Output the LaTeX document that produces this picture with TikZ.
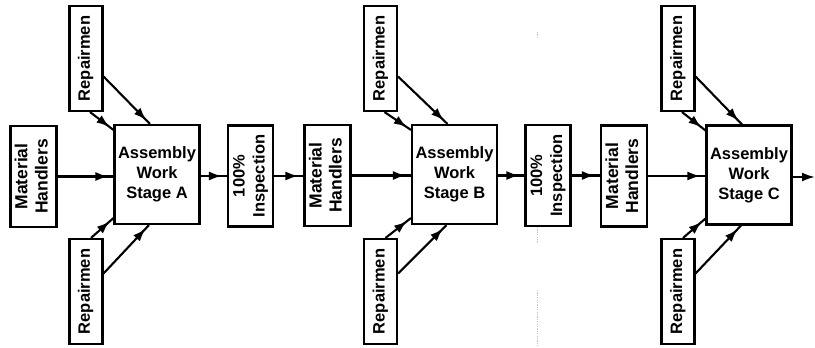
\documentclass[tikz,border=0pt]{standalone}
\usepackage{fontspec}
\setmainfont{Liberation Sans}
\usepackage{graphicx}
\usetikzlibrary{arrows.meta,decorations.markings,calc}

% vertical (rotated) text, lines centred
\newcommand\uptext[1]{\rotatebox{90}{\begin{tabular}{@{}c@{}}#1\end{tabular}}}

\tikzset{
  box/.style={draw, line width=2.1pt, inner sep=0pt, align=center,
              font=\bfseries\fontsize{16.5}{20}\selectfont},
  repbox/.style={box, minimum width=33pt, minimum height=105pt},
  mhbox/.style={box, minimum width=46pt, minimum height=101pt,
                font=\bfseries\fontsize{17.5}{20}\selectfont},
  asmbox/.style={box, minimum width=85pt, minimum height=99pt},
  inspbox/.style={box, minimum width=45pt, minimum height=101pt},
  flow/.style={line width=2.1pt, postaction={decorate},
    decoration={markings,
      mark=at position -5pt with {\arrow{Latex[length=13pt,width=9pt]}}}},
  endflow/.style={line width=2.1pt, -{Latex[length=13pt,width=9pt]}},
  crease/.style={gray!45, line width=0.6pt, dash pattern=on 1.2pt off 1.2pt},
}

\begin{document}
\begin{tikzpicture}[x=1pt,y=-1pt]
\useasboundingbox (0,0) rectangle (815,348);

% ---- stage A ----
\node[mhbox]   (mhA) at (33.5,176.5) {\uptext{Material\\Handlers}};
\node[repbox]  (rtA) at (86,58.5)    {\uptext{Repairmen}};
\node[repbox]  (rbA) at (86,291.5)   {\uptext{Repairmen}};
\node[asmbox]  (asA) at (157,174.5)  {Assembly\\Work\\Stage A};
\node[inspbox] (inA) at (250.5,176)  {\uptext{100\%\\Inspection}};

% ---- stage B ----
\node[mhbox]   (mhB) at (327.5,175.5) {\uptext{Material\\Handlers}};
\node[repbox]  (rtB) at (380.5,58.5)  {\uptext{Repairmen}};
\node[repbox]  (rbB) at (380.5,291.5) {\uptext{Repairmen}};
\node[asmbox]  (asB) at (454.5,174.5) {Assembly\\Work\\Stage B};
\node[inspbox] (inB) at (548,175.5)   {\uptext{100\%\\Inspection}};

% ---- stage C ----
\node[mhbox]   (mhC) at (624,176)    {\uptext{Material\\Handlers}};
\node[repbox]  (rtC) at (678,58.5)   {\uptext{Repairmen}};
\node[repbox]  (rbC) at (678,291.5)  {\uptext{Repairmen}};
\node[asmbox]  (asC) at (749,175)    {Assembly\\Work\\Stage C};
\coordinate    (out) at (815,177);

% ---- connectors of each stage ----
\foreach \s in {A,B,C}{
  \draw[flow] (mh\s.east) -- (as\s.west |- mh\s.east);
  \draw[flow] ([xshift=4pt]rt\s.south) -- ([yshift=-6pt]as\s.north west);
  \draw[flow] ([yshift=-18pt]rt\s.east) -- ([xshift=-7pt]as\s.north);
  \draw[flow] ([xshift=5pt]rb\s.north) -- ([yshift=7pt]as\s.south west);
  \draw[flow] ([yshift=18pt]rb\s.east) -- ([xshift=-8pt]as\s.south);
}

% ---- line between stages ----
\draw[flow] (asA.east |- inA.west) -- (inA.west);
\draw[flow] (inA.east) -- (mhB.west |- inA.east);
\draw[flow] (asB.east |- inB.west) -- (inB.west);
\draw[flow] (inB.east) -- (mhC.west |- inB.east);
\draw[endflow] (asC.east |- out) -- (out);

% ---- faint crease of the sheet ----
\draw[crease] (537,32) -- (537,37);
\draw[crease] (537,227) -- (537,243);
\draw[crease] (537,290) -- (537,347);
\end{tikzpicture}
\end{document}
